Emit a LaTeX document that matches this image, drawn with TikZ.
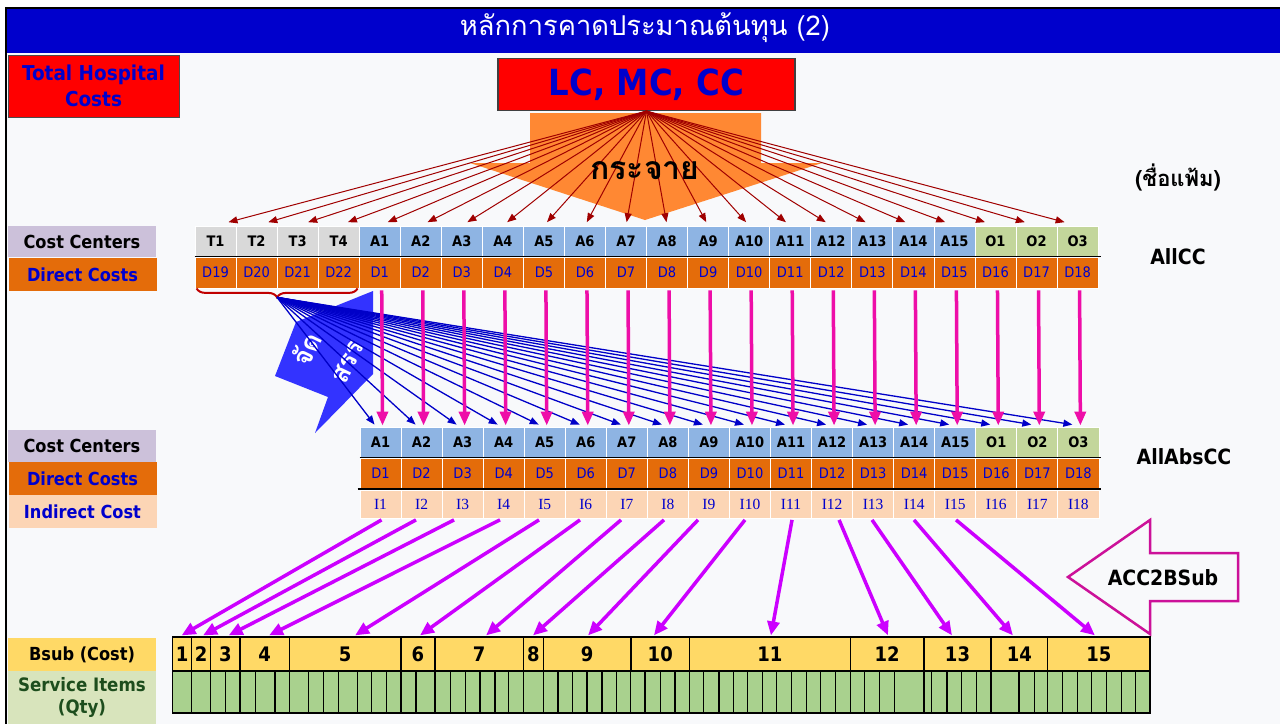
\documentclass[tikz,border=0pt]{standalone}
\usepackage{fontspec}
\setmainfont{DejaVu Sans Condensed}
\newfontfamily\thai[Script=Thai]{Loma}
\newfontfamily\seri{Liberation Serif}
\usetikzlibrary{arrows.meta,calc,decorations.pathreplacing}
\definecolor{bg}{HTML}{F8F9FB}
\definecolor{titleblue}{HTML}{0000CC}
\definecolor{hred}{HTML}{FF0000}
\definecolor{tblue}{HTML}{0000CC}
\definecolor{orangeA}{HTML}{FF8833}
\definecolor{fanred}{HTML}{A00000}
\definecolor{tgray}{HTML}{D9D9D9}
\definecolor{ablue}{HTML}{8EB4E3}
\definecolor{ogreen}{HTML}{C3D69B}
\definecolor{dcorange}{HTML}{E46C0A}
\definecolor{ccl}{HTML}{CCC1DA}
\definecolor{ipeach}{HTML}{FCD5B5}
\definecolor{lblue}{HTML}{0000C8}
\definecolor{pinkA}{HTML}{EE0EA8}
\definecolor{vio}{HTML}{CC00FF}
\definecolor{jblue}{HTML}{3333FF}
\definecolor{accmag}{HTML}{CC1199}
\definecolor{bsubyel}{HTML}{FFD966}
\definecolor{sgreen}{HTML}{A9D18E}
\definecolor{slbl}{HTML}{D8E4BC}
\definecolor{sgtext}{HTML}{1D4D1D}
\definecolor{bracered}{HTML}{C00000}
\tikzset{
  cellbox/.style={rectangle, inner sep=0pt, minimum width=41.05pt, draw=white, line width=0.8pt},
  ccrow/.style={cellbox, minimum height=30pt, font=\fontsize{14.5}{16}\selectfont\bfseries},
  dcrow/.style={cellbox, minimum height=31pt, fill=dcorange, text=tblue, font=\fontsize{14.5}{16}\selectfont},
  icrow/.style={cellbox, minimum height=28pt, fill=ipeach, text=tblue, font=\seri\fontsize{15.5}{17}\selectfont},
  lbl/.style={rectangle, inner sep=0pt, minimum width=148pt, font=\fontsize{18}{20}\selectfont\bfseries},
  fanarr/.style={draw=fanred, line width=1pt, -{Triangle[length=9pt,width=7pt]}},
  bluearr/.style={draw=lblue, line width=1.3pt, -{Triangle[length=9pt,width=7pt]}},
  pinkarr/.style={draw=pinkA, line width=3.5pt, -{Triangle[length=14pt,width=11pt]}},
  vioarr/.style={draw=vio, line width=3.5pt, -{Triangle[length=14pt,width=12pt]}},
  bsubbox/.style={rectangle, inner sep=0pt, minimum height=34pt, draw=black, line width=1.2pt, fill=bsubyel, font=\fontsize{20}{22}\selectfont\bfseries},
  filelbl/.style={font=\fontsize{21}{24}\selectfont\bfseries},
  jstext/.style={rotate=64, text=white, inner sep=0pt, font=\thai\bfseries\fontsize{27}{30}\selectfont},
}
\begin{document}
\begin{tikzpicture}[x=1pt,y=-1pt]
\useasboundingbox (0,0) rectangle (1280,724);
% background and frame
\fill[white] (0,0) rectangle (1280,724);
\fill[bg] (7,8) rectangle (1280,724);
\fill[titleblue] (7,9) rectangle (1280,53);
\draw[line width=2.5pt] (6.2,724) -- (6.2,7.8) -- (1280,7.8);
\node[text=white, font=\thai\fontsize{27.3}{30}\selectfont] (title) at (645,28) {หลักการคาดประมาณต้นทุน (2)};

% header boxes
\node[rectangle, fill=hred, draw=black!70, line width=1pt, minimum width=171pt, minimum height=62pt, inner sep=0pt,
      text=tblue, align=center, font=\fontsize{20.5}{26}\selectfont\bfseries] (thc) at (93.5,86) {Total Hospital\\Costs};
\node[rectangle, fill=hred, draw=black!75, line width=1.2pt, minimum width=297pt, minimum height=52pt, inner sep=0pt,
      text=tblue, font=\fontsize{36}{40}\selectfont\bfseries] (lc) at (646.5,84.5) {LC, MC, CC};

% big orange arrow
\fill[orangeA] (530,113) -- (761,113) -- (761,163) -- (822,163) -- (645,220) -- (470,163) -- (530,163) -- cycle;

% top row cells
\foreach \n in {1,...,4}{
  \pgfmathtruncatemacro\dd{\n+18}
  \node[ccrow, fill=tgray] (u\n) at ({195+(\n-0.5)*41.05},241) {T\n};
  \node[dcrow] (ud\n) at ({195+(\n-0.5)*41.05},272.5) {D\dd};
}
\foreach \n in {1,...,15}{
  \pgfmathtruncatemacro\k{\n+4}
  \node[ccrow, fill=ablue] (u\k) at ({195+(\k-0.5)*41.05},241) {A\n};
  \node[dcrow] (ud\k) at ({195+(\k-0.5)*41.05},272.5) {D\n};
}
\foreach \n in {1,2,3}{
  \pgfmathtruncatemacro\k{\n+19}
  \pgfmathtruncatemacro\dd{\n+15}
  \node[ccrow, fill=ogreen] (u\k) at ({195+(\k-0.5)*41.05},241) {O\n};
  \node[dcrow] (ud\k) at ({195+(\k-0.5)*41.05},272.5) {D\dd};
}
\draw[line width=1.5pt] (u1.south west) -- ([xshift=2pt]u22.south east);

% fan arrows
\foreach \k in {1,...,22}
  \draw[fanarr] (lc.south) -- ($(u\k.north)!0.03!(lc.south)$);
\node[font=\thai\bfseries\fontsize{32}{34}\selectfont] (kj) at (645,171) {กระจาย};

% brace
\coordinate (bl) at ([xshift=2pt]ud1.south west);
\coordinate (brr) at ([xshift=-2pt]ud4.south east);
\draw[decorate, decoration={brace, amplitude=9pt}, draw=bracered, line width=2pt] (brr) -- (bl);
\coordinate (br) at ($(bl)!0.5!(brr)+(0,9)$);

% allocation arrow shape
\fill[jblue] (373,291) -- (373,374) -- (315,433) -- (328,397) -- (275,376) -- (296,322) -- cycle;
\node[jstext] (js1) at (306,349) {จัด};
\node[jstext] (js2) at (348,362) {สรร};

% second row cells
\foreach \n in {1,...,15}{
  \node[ccrow, fill=ablue] (v\n) at ({360+(\n-0.5)*41.05},442) {A\n};
  \node[dcrow, minimum height=30pt] (vd\n) at ({360+(\n-0.5)*41.05},473.5) {D\n};
  \node[icrow] (vi\n) at ({360+(\n-0.5)*41.05},504.5) {I\n};
}
\foreach \n in {1,2,3}{
  \pgfmathtruncatemacro\k{\n+15}
  \node[ccrow, fill=ogreen] (v\k) at ({360+(\k-0.5)*41.05},442) {O\n};
  \node[dcrow, minimum height=30pt] (vd\k) at ({360+(\k-0.5)*41.05},473.5) {D\k};
  \node[icrow] (vi\k) at ({360+(\k-0.5)*41.05},504.5) {I\k};
}
\draw[line width=1.5pt] (v1.south west) -- ([xshift=2pt]v18.south east);
\draw[line width=1.5pt] ([xshift=-2pt]vd1.south west) -- ([xshift=2pt]vd18.south east);

% blue allocation lines
\foreach \k in {1,...,18}
  \draw[bluearr] (br) -- ([xshift=-6pt,yshift=2pt]v\k.north);
% pink direct arrows
\foreach \k in {1,...,18}{
  \pgfmathtruncatemacro\m{\k+4}
  \draw[pinkarr] ([xshift=2pt,yshift=-2pt]ud\m.south) -- ([xshift=2pt,yshift=1pt]v\k.north);
}

% left labels
\node[lbl, fill=ccl, minimum height=31pt] (l1) at (82,241.5) {Cost Centers};
\node[lbl, fill=dcorange, text=tblue, minimum height=33pt] (l2) at (82.5,274.5) {Direct Costs};
\node[lbl, fill=ccl, minimum height=32pt] (l3) at (82,446) {Cost Centers};
\node[lbl, fill=dcorange, text=tblue, minimum height=33pt] (l4) at (82.5,478.5) {Direct Costs};
\node[lbl, fill=ipeach, text=tblue, minimum height=33pt] (l5) at (82.5,511.5) {Indirect Cost};
\node[lbl, fill=bsubyel, minimum height=33pt] (l6) at (82,654.5) {Bsub (Cost)};
\node[lbl, fill=slbl, text=sgtext, minimum height=53pt, align=center, font=\fontsize{18.5}{22}\selectfont\bfseries] (l7) at (82,697.5) {Service Items\\(Qty)};

% file labels
\node[filelbl, font=\thai\bfseries\fontsize{22}{24}\selectfont] (fname) at (1178,177) {(ชื่อแฟ้ม)};
\node[filelbl] (allcc) at (1178,257) {AllCC};
\node[filelbl] (allabs) at (1184,457) {AllAbsCC};

% ACC2BSub arrow
\draw[draw=accmag, line width=2.5pt, fill=bg] (1068,577) -- (1150,520) -- (1150,553) -- (1238,553) -- (1238,601) -- (1150,601) -- (1150,634) -- cycle;
\node[filelbl] (acc) at (1163,578) {ACC2BSub};

% Bsub cells
\foreach \l/\r/\t in {172.7/191.7/1, 191.7/210.7/2, 210.7/240/3, 240/289.3/4, 289.3/401/5, 401/435/6, 435/523.3/7, 523.3/543.3/8, 543.3/631/9, 631/689.5/10, 689.5/850.4/11, 850.4/924/12, 924/991/13, 991/1047.7/14, 1047.7/1150/15}
  \node[bsubbox, minimum width={(\r-\l)*1pt}] (b\t) at ({(\l+\r)/2},654) {\t};

% service items grid
\fill[sgreen] (172.7,671) rectangle (1150,713);
\foreach \x in {191.7, 210.7, 225.7, 240, 255.7, 275, 289.3, 308.3, 323.3, 338.3, 357.3, 371.7, 386.7, 401, 416, 435, 450.7, 465.7, 480, 495, 508.3, 523.3, 543.3, 558, 572.6, 587, 602, 616.3, 630.9, 645, 660.4, 675, 689.5, 703.7, 719, 733.6, 747.7, 762.3, 776.9, 791.8, 806.4, 820.5, 835.9, 850.4, 864.6, 879.2, 894.1, 924, 931.6, 947, 961.5, 976.5, 991, 1019, 1034.3, 1047.7, 1062.7, 1077.2, 1091.8, 1106.7, 1121.3, 1135.9}
  \draw[line width=1.1pt] (\x,671) -- (\x,713);
\draw[line width=1.5pt] (172.7,671) rectangle (1150,713);

% violet arrows to Bsub
\foreach \k/\s/\e in {1/1/-0.6, 2/-5.6/1.8, 3/-8.6/3.3, 4/-3.7/4.4, 5/-5.7/9.9, 6/-5.8/2, 7/-5.8/6.9, 8/-3.9/-0.3, 9/-10.9/0.9, 10/-5/-6.3, 11/1/1, 12/7/0.8, 13/-1.1/-5.5, 14/-0.2/-6.4, 15/0.8/-3.9}
  \draw[vioarr] ([xshift=\s pt,yshift=-1pt]vi\k.south) -- ([xshift=\e pt,yshift=1pt]b\k.north);
\end{tikzpicture}
\end{document}
